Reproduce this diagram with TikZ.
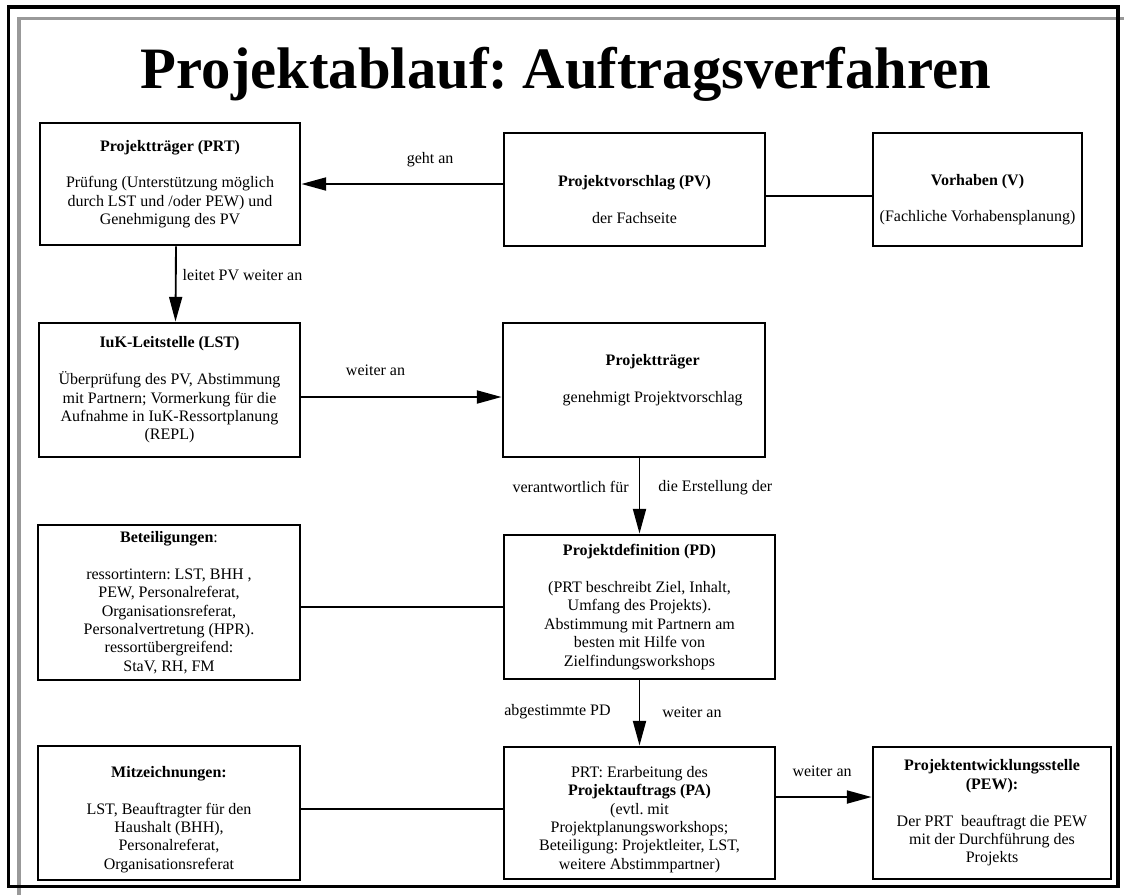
\documentclass[tikz,border=0pt]{standalone}
\usepackage{fontspec}
\setmainfont{Liberation Serif}
\frenchspacing
\usetikzlibrary{arrows.meta}

\begin{document}
\begin{tikzpicture}[
        x=0.75pt, y=-0.75pt,
        every node/.style={font=\fontsize{12}{13.8}\selectfont},
        box/.style={rectangle, draw=black, line width=2.2pt, fill=white, align=center, inner sep=0pt},
        conn/.style={draw, line width=1.4pt},
        arr/.style={conn, -{Triangle[length=18.5pt, width=9.75pt]}},
        lbl/.style={inner sep=0pt}
    ]
    \useasboundingbox (0,0) rectangle (1124,894);

    % frame
    \draw[black!40, line width=2.6pt] (19,900) -- (19,18.5) -- (1130,18.5);
    \draw[line width=2.6pt] (8.5,7) rectangle (1118,886.5);

    \node[font=\fontsize{44}{50}\selectfont\bfseries] (title) at (566,74) {Projektablauf: Auftragsverfahren};

    % top row
    \node[box, minimum width=195pt, minimum height=91.5pt] (prt) at (170,184)
        {\textbf{Projektträger (PRT)}\\[13.8pt] Prüfung (Unterstützung möglich\\ durch LST und /oder PEW) und\\ Genehmigung des PV};
    \node[box, minimum width=195.75pt, minimum height=84.75pt] (pv) at (634.5,189.5)
        {\strut\\ \textbf{Projektvorschlag (PV)}\\[13.8pt] der Fachseite};
    \node[box, minimum width=156.75pt, minimum height=84.75pt] (v) at (977.5,189.5)
        {\strut\\ \textbf{Vorhaben (V)}\\[13.8pt] (Fachliche Vorhabensplanung)};

    % second row
    \node[box, minimum width=195.75pt, minimum height=100.5pt] (lst) at (169.5,390)
        {\textbf{IuK-Leitstelle (LST)}\\[13.8pt] Überprüfung des PV, Abstimmung\\ mit Partnern; Vormerkung für die\\ Aufnahme in IuK-Ressortplanung\\ (REPL)};
    \node[box, minimum width=196.5pt, minimum height=100.5pt] (pt2) at (634,390)
        {\hspace*{28pt}\textbf{Projektträger}\\[13.8pt] \hspace*{28pt}genehmigt Projektvorschlag\\ \strut};

    % third row
    \node[box, minimum width=196.5pt, minimum height=116.25pt] (bet) at (169,602.5)
        {\textbf{Beteiligungen}:\\[13.8pt] ressortintern: LST, BHH ,\\ PEW, Personalreferat,\\ Organisationsreferat,\\ Personalvertretung (HPR).\\ ressortübergreifend:\\ StaV, RH, FM};
    \node[box, minimum width=203.25pt, minimum height=108pt] (pd) at (639.5,607)
        {\textbf{Projektdefinition (PD)}\\[13.8pt] (PRT beschreibt Ziel, Inhalt,\\ Umfang des Projekts).\\ Abstimmung mit Partnern am\\ besten mit Hilfe von\\ Zielfindungsworkshops};

    % bottom row
    \node[box, minimum width=196.5pt, minimum height=100.5pt] (mitz) at (169,813)
        {\rule{0pt}{18pt}\textbf{Mitzeichnungen:}\\[13.8pt] LST, Beauftragter für den\\ Haushalt (BHH),\\ Personalreferat,\\ Organisationsreferat};
    \node[box, minimum width=203.25pt, minimum height=99pt] (pa) at (639.5,813)
        {\rule{0pt}{18pt}PRT: Erarbeitung des\\ \textbf{Projektauftrags (PA)}\\ (evtl. mit\\ Projektplanungsworkshops;\\ Beteiligung: Projektleiter, LST,\\ weitere Abstimmpartner)};
    \node[box, minimum width=178.5pt, minimum height=99pt] (pew) at (992,813)
        {\textbf{Projektentwicklungsstelle}\\ \textbf{(PEW):}\\[13.8pt] Der PRT\ \ beauftragt die PEW\\ mit der Durchführung des\\ Projekts};

    % connectors
    \draw[arr] (pv.west |- prt.east) -- node[lbl, pos=0.36, yshift=18pt] (l_geht) {geht an} (prt.east);
    \draw[conn] ([yshift=-5pt]pv.east) -- ([yshift=-5pt]v.west);
    \draw[arr] ([xshift=4.5pt]prt.south) -- node[lbl, pos=0.385, anchor=west, xshift=4.5pt] (l_leitet) {leitet PV weiter an} ([xshift=4.5pt]lst.north);
    \draw[arr] ([yshift=-5.25pt]lst.east) -- node[lbl, pos=0.37, yshift=20.25pt] (l_weiter1) {weiter an} ([yshift=-5.25pt]pt2.west);
    \draw[arr] (pt2.south -| pd.north) -- node[lbl, pos=0.385, anchor=east, xshift=-7.5pt] (l_verant) {verantwortlich für}
        node[lbl, pos=0.385, anchor=west, xshift=13.5pt] (l_erst) {die Erstellung der} (pd.north);
    \draw[conn] (bet.east |- pd.west) -- (pd.west);
    \draw[arr] (pd.south) -- node[lbl, pos=0.485, anchor=east, xshift=-21pt] (l_abg) {abgestimmte PD}
        node[lbl, pos=0.485, anchor=west, xshift=16.5pt] (l_weiter2) {weiter an} (pa.north);
    \draw[conn] ([yshift=3pt]mitz.east) -- ([yshift=3pt]pa.west);
    \draw[arr] ([yshift=12pt]pa.east) -- node[lbl, pos=0.48, yshift=19pt] (l_weiter3) {weiter an} ([yshift=12pt]pew.west);
\end{tikzpicture}
\end{document}
